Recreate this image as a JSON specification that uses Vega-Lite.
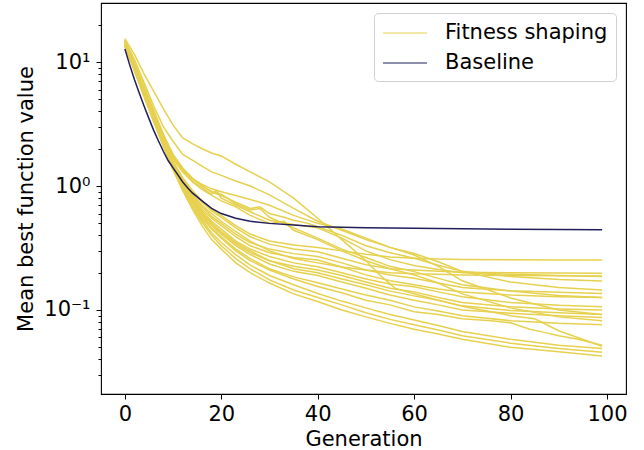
{
"$schema": "https://vega.github.io/schema/vega-lite/v6.json",
"width": 525, "height": 391,
"autosize": {"type": "none"},
"padding": {"left": 101, "top": 3, "right": 18, "bottom": 56},
"background": "white",
"config": {"view": {"stroke": "#000", "strokeWidth": 1.1}, "font": "DejaVu Sans"},
"datasets": {
"fs": [
{"r":"a","g":0,"v":14},{"r":"a","g":2,"v":8.8},{"r":"a","g":4,"v":5.4},{"r":"a","g":6,"v":3.4},{"r":"a","g":8,"v":2.1},{"r":"a","g":10,"v":1.35},{"r":"a","g":12,"v":0.92},{"r":"a","g":14,"v":0.65},{"r":"a","g":16,"v":0.48},{"r":"a","g":18,"v":0.37},{"r":"a","g":20,"v":0.31},{"r":"a","g":23,"v":0.24},{"r":"a","g":26,"v":0.2},{"r":"a","g":30,"v":0.165},{"r":"a","g":35,"v":0.135},{"r":"a","g":40,"v":0.117},{"r":"a","g":45,"v":0.1},{"r":"a","g":50,"v":0.088},{"r":"a","g":55,"v":0.078},{"r":"a","g":60,"v":0.07},{"r":"a","g":65,"v":0.064},{"r":"a","g":70,"v":0.058},{"r":"a","g":80,"v":0.05},{"r":"a","g":90,"v":0.046},{"r":"a","g":99,"v":0.0426},
{"r":"b","g":0,"v":13.5},{"r":"b","g":2,"v":8.5},{"r":"b","g":4,"v":5.3},{"r":"b","g":6,"v":3.3},{"r":"b","g":8,"v":2.1},{"r":"b","g":10,"v":1.38},{"r":"b","g":12,"v":0.95},{"r":"b","g":14,"v":0.68},{"r":"b","g":16,"v":0.51},{"r":"b","g":18,"v":0.4},{"r":"b","g":20,"v":0.33},{"r":"b","g":23,"v":0.26},{"r":"b","g":26,"v":0.215},{"r":"b","g":30,"v":0.175},{"r":"b","g":35,"v":0.145},{"r":"b","g":40,"v":0.126},{"r":"b","g":45,"v":0.11},{"r":"b","g":50,"v":0.095},{"r":"b","g":55,"v":0.084},{"r":"b","g":60,"v":0.076},{"r":"b","g":65,"v":0.069},{"r":"b","g":70,"v":0.062},{"r":"b","g":80,"v":0.054},{"r":"b","g":90,"v":0.049},{"r":"b","g":99,"v":0.0456},
{"r":"c","g":0,"v":14.5},{"r":"c","g":2,"v":9},{"r":"c","g":4,"v":5.5},{"r":"c","g":6,"v":3.4},{"r":"c","g":8,"v":2.15},{"r":"c","g":10,"v":1.4},{"r":"c","g":12,"v":0.97},{"r":"c","g":14,"v":0.7},{"r":"c","g":16,"v":0.53},{"r":"c","g":18,"v":0.42},{"r":"c","g":20,"v":0.35},{"r":"c","g":23,"v":0.28},{"r":"c","g":26,"v":0.23},{"r":"c","g":30,"v":0.19},{"r":"c","g":35,"v":0.16},{"r":"c","g":40,"v":0.136},{"r":"c","g":45,"v":0.118},{"r":"c","g":50,"v":0.104},{"r":"c","g":55,"v":0.092},{"r":"c","g":60,"v":0.083},{"r":"c","g":65,"v":0.075},{"r":"c","g":70,"v":0.067},{"r":"c","g":80,"v":0.058},{"r":"c","g":90,"v":0.052},{"r":"c","g":99,"v":0.049},
{"r":"d","g":0,"v":13.8},{"r":"d","g":2,"v":8.6},{"r":"d","g":4,"v":5.2},{"r":"d","g":6,"v":3.3},{"r":"d","g":8,"v":2.1},{"r":"d","g":10,"v":1.36},{"r":"d","g":12,"v":0.94},{"r":"d","g":14,"v":0.7},{"r":"d","g":16,"v":0.55},{"r":"d","g":18,"v":0.45},{"r":"d","g":20,"v":0.38},{"r":"d","g":23,"v":0.3},{"r":"d","g":26,"v":0.25},{"r":"d","g":30,"v":0.21},{"r":"d","g":35,"v":0.178},{"r":"d","g":40,"v":0.155},{"r":"d","g":45,"v":0.138},{"r":"d","g":50,"v":0.12},{"r":"d","g":55,"v":0.11},{"r":"d","g":60,"v":0.097},{"r":"d","g":65,"v":0.092},{"r":"d","g":70,"v":0.085},{"r":"d","g":76,"v":0.082},{"r":"d","g":80,"v":0.079},{"r":"d","g":84,"v":0.07},{"r":"d","g":87,"v":0.066},{"r":"d","g":90,"v":0.062},{"r":"d","g":94,"v":0.058},{"r":"d","g":99,"v":0.052},
{"r":"e","g":0,"v":14.2},{"r":"e","g":2,"v":8.9},{"r":"e","g":4,"v":5.4},{"r":"e","g":6,"v":3.35},{"r":"e","g":8,"v":2.15},{"r":"e","g":10,"v":1.42},{"r":"e","g":12,"v":1.0},{"r":"e","g":14,"v":0.74},{"r":"e","g":16,"v":0.57},{"r":"e","g":18,"v":0.46},{"r":"e","g":20,"v":0.39},{"r":"e","g":23,"v":0.31},{"r":"e","g":26,"v":0.26},{"r":"e","g":30,"v":0.215},{"r":"e","g":35,"v":0.185},{"r":"e","g":40,"v":0.166},{"r":"e","g":45,"v":0.148},{"r":"e","g":50,"v":0.132},{"r":"e","g":55,"v":0.12},{"r":"e","g":60,"v":0.106},{"r":"e","g":65,"v":0.098},{"r":"e","g":70,"v":0.09},{"r":"e","g":80,"v":0.082},{"r":"e","g":90,"v":0.078},{"r":"e","g":99,"v":0.076},
{"r":"f","g":0,"v":14.8},{"r":"f","g":2,"v":9.2},{"r":"f","g":4,"v":5.6},{"r":"f","g":6,"v":3.5},{"r":"f","g":8,"v":2.2},{"r":"f","g":10,"v":1.45},{"r":"f","g":12,"v":1.02},{"r":"f","g":14,"v":0.75},{"r":"f","g":16,"v":0.58},{"r":"f","g":18,"v":0.48},{"r":"f","g":20,"v":0.41},{"r":"f","g":23,"v":0.33},{"r":"f","g":26,"v":0.28},{"r":"f","g":30,"v":0.235},{"r":"f","g":35,"v":0.205},{"r":"f","g":40,"v":0.19},{"r":"f","g":45,"v":0.168},{"r":"f","g":50,"v":0.15},{"r":"f","g":55,"v":0.132},{"r":"f","g":60,"v":0.12},{"r":"f","g":65,"v":0.11},{"r":"f","g":70,"v":0.1},{"r":"f","g":80,"v":0.094},{"r":"f","g":90,"v":0.09},{"r":"f","g":99,"v":0.087},
{"r":"g","g":0,"v":13.6},{"r":"g","g":2,"v":8.6},{"r":"g","g":4,"v":5.3},{"r":"g","g":6,"v":3.35},{"r":"g","g":8,"v":2.15},{"r":"g","g":10,"v":1.43},{"r":"g","g":12,"v":1.02},{"r":"g","g":14,"v":0.76},{"r":"g","g":16,"v":0.6},{"r":"g","g":18,"v":0.5},{"r":"g","g":20,"v":0.43},{"r":"g","g":23,"v":0.35},{"r":"g","g":26,"v":0.3},{"r":"g","g":30,"v":0.25},{"r":"g","g":35,"v":0.215},{"r":"g","g":40,"v":0.2},{"r":"g","g":45,"v":0.178},{"r":"g","g":50,"v":0.16},{"r":"g","g":55,"v":0.142},{"r":"g","g":60,"v":0.13},{"r":"g","g":65,"v":0.12},{"r":"g","g":70,"v":0.108},{"r":"g","g":80,"v":0.099},{"r":"g","g":90,"v":0.095},{"r":"g","g":99,"v":0.092},
{"r":"h","g":0,"v":14.4},{"r":"h","g":2,"v":9},{"r":"h","g":4,"v":5.5},{"r":"h","g":6,"v":3.45},{"r":"h","g":8,"v":2.2},{"r":"h","g":10,"v":1.46},{"r":"h","g":12,"v":1.04},{"r":"h","g":14,"v":0.78},{"r":"h","g":16,"v":0.61},{"r":"h","g":18,"v":0.5},{"r":"h","g":20,"v":0.42},{"r":"h","g":23,"v":0.34},{"r":"h","g":26,"v":0.29},{"r":"h","g":30,"v":0.25},{"r":"h","g":35,"v":0.225},{"r":"h","g":40,"v":0.21},{"r":"h","g":45,"v":0.19},{"r":"h","g":50,"v":0.168},{"r":"h","g":55,"v":0.15},{"r":"h","g":60,"v":0.14},{"r":"h","g":65,"v":0.126},{"r":"h","g":70,"v":0.115},{"r":"h","g":80,"v":0.106},{"r":"h","g":90,"v":0.102},{"r":"h","g":99,"v":0.1},
{"r":"i","g":0,"v":13.9},{"r":"i","g":2,"v":8.8},{"r":"i","g":4,"v":5.4},{"r":"i","g":6,"v":3.4},{"r":"i","g":8,"v":2.2},{"r":"i","g":10,"v":1.48},{"r":"i","g":12,"v":1.06},{"r":"i","g":14,"v":0.8},{"r":"i","g":16,"v":0.63},{"r":"i","g":18,"v":0.52},{"r":"i","g":20,"v":0.45},{"r":"i","g":23,"v":0.36},{"r":"i","g":26,"v":0.31},{"r":"i","g":30,"v":0.27},{"r":"i","g":35,"v":0.24},{"r":"i","g":40,"v":0.223},{"r":"i","g":45,"v":0.2},{"r":"i","g":50,"v":0.178},{"r":"i","g":55,"v":0.162},{"r":"i","g":60,"v":0.154},{"r":"i","g":65,"v":0.14},{"r":"i","g":70,"v":0.128},{"r":"i","g":80,"v":0.115},{"r":"i","g":90,"v":0.109},{"r":"i","g":99,"v":0.106},
{"r":"j","g":0,"v":14.6},{"r":"j","g":2,"v":9.1},{"r":"j","g":4,"v":5.6},{"r":"j","g":6,"v":3.5},{"r":"j","g":8,"v":2.25},{"r":"j","g":10,"v":1.5},{"r":"j","g":12,"v":1.08},{"r":"j","g":14,"v":0.82},{"r":"j","g":16,"v":0.65},{"r":"j","g":18,"v":0.55},{"r":"j","g":20,"v":0.48},{"r":"j","g":23,"v":0.39},{"r":"j","g":26,"v":0.33},{"r":"j","g":30,"v":0.29},{"r":"j","g":35,"v":0.265},{"r":"j","g":40,"v":0.253},{"r":"j","g":45,"v":0.222},{"r":"j","g":50,"v":0.192},{"r":"j","g":55,"v":0.172},{"r":"j","g":60,"v":0.16},{"r":"j","g":65,"v":0.148},{"r":"j","g":70,"v":0.14},{"r":"j","g":80,"v":0.132},{"r":"j","g":90,"v":0.128},{"r":"j","g":99,"v":0.126},
{"r":"k","g":0,"v":13.4},{"r":"k","g":2,"v":8.5},{"r":"k","g":4,"v":5.3},{"r":"k","g":6,"v":3.4},{"r":"k","g":8,"v":2.2},{"r":"k","g":10,"v":1.5},{"r":"k","g":12,"v":1.1},{"r":"k","g":14,"v":0.85},{"r":"k","g":16,"v":0.68},{"r":"k","g":18,"v":0.57},{"r":"k","g":20,"v":0.5},{"r":"k","g":23,"v":0.41},{"r":"k","g":26,"v":0.35},{"r":"k","g":30,"v":0.31},{"r":"k","g":35,"v":0.285},{"r":"k","g":40,"v":0.27},{"r":"k","g":45,"v":0.24},{"r":"k","g":50,"v":0.21},{"r":"k","g":55,"v":0.192},{"r":"k","g":60,"v":0.18},{"r":"k","g":65,"v":0.165},{"r":"k","g":70,"v":0.152},{"r":"k","g":80,"v":0.143},{"r":"k","g":90,"v":0.139},{"r":"k","g":99,"v":0.136},
{"r":"l","g":0,"v":14.9},{"r":"l","g":2,"v":9.3},{"r":"l","g":4,"v":5.7},{"r":"l","g":6,"v":3.6},{"r":"l","g":8,"v":2.3},{"r":"l","g":10,"v":1.55},{"r":"l","g":12,"v":1.12},{"r":"l","g":14,"v":0.86},{"r":"l","g":16,"v":0.7},{"r":"l","g":18,"v":0.6},{"r":"l","g":20,"v":0.52},{"r":"l","g":23,"v":0.43},{"r":"l","g":26,"v":0.36},{"r":"l","g":30,"v":0.3},{"r":"l","g":35,"v":0.26},{"r":"l","g":40,"v":0.24},{"r":"l","g":45,"v":0.222},{"r":"l","g":50,"v":0.21},{"r":"l","g":55,"v":0.2},{"r":"l","g":60,"v":0.196},{"r":"l","g":65,"v":0.194},{"r":"l","g":70,"v":0.192},{"r":"l","g":80,"v":0.19},{"r":"l","g":90,"v":0.189},{"r":"l","g":99,"v":0.188},
{"r":"m","g":0,"v":13.7},{"r":"m","g":2,"v":8.7},{"r":"m","g":4,"v":5.4},{"r":"m","g":6,"v":3.45},{"r":"m","g":8,"v":2.25},{"r":"m","g":10,"v":1.55},{"r":"m","g":12,"v":1.14},{"r":"m","g":14,"v":0.9},{"r":"m","g":16,"v":0.74},{"r":"m","g":18,"v":0.63},{"r":"m","g":20,"v":0.56},{"r":"m","g":23,"v":0.46},{"r":"m","g":26,"v":0.39},{"r":"m","g":30,"v":0.34},{"r":"m","g":35,"v":0.31},{"r":"m","g":40,"v":0.295},{"r":"m","g":45,"v":0.262},{"r":"m","g":50,"v":0.232},{"r":"m","g":55,"v":0.215},{"r":"m","g":60,"v":0.21},{"r":"m","g":65,"v":0.205},{"r":"m","g":70,"v":0.202},{"r":"m","g":80,"v":0.2},{"r":"m","g":90,"v":0.199},{"r":"m","g":99,"v":0.198},
{"r":"n","g":0,"v":14.3},{"r":"n","g":2,"v":9},{"r":"n","g":4,"v":5.6},{"r":"n","g":6,"v":3.55},{"r":"n","g":8,"v":2.3},{"r":"n","g":10,"v":1.58},{"r":"n","g":12,"v":1.17},{"r":"n","g":14,"v":0.92},{"r":"n","g":16,"v":0.76},{"r":"n","g":18,"v":0.65},{"r":"n","g":20,"v":0.58},{"r":"n","g":23,"v":0.48},{"r":"n","g":26,"v":0.41},{"r":"n","g":30,"v":0.36},{"r":"n","g":35,"v":0.335},{"r":"n","g":40,"v":0.32},{"r":"n","g":45,"v":0.3},{"r":"n","g":50,"v":0.282},{"r":"n","g":55,"v":0.268},{"r":"n","g":60,"v":0.262},{"r":"n","g":65,"v":0.258},{"r":"n","g":70,"v":0.256},{"r":"n","g":80,"v":0.254},{"r":"n","g":90,"v":0.253},{"r":"n","g":99,"v":0.253},
{"r":"o","g":0,"v":15},{"r":"o","g":2,"v":9.5},{"r":"o","g":4,"v":5.9},{"r":"o","g":6,"v":3.8},{"r":"o","g":8,"v":2.5},{"r":"o","g":10,"v":1.75},{"r":"o","g":12,"v":1.38},{"r":"o","g":14,"v":1.15},{"r":"o","g":16,"v":1.0},{"r":"o","g":18,"v":0.9},{"r":"o","g":20,"v":0.84},{"r":"o","g":23,"v":0.74},{"r":"o","g":26,"v":0.66},{"r":"o","g":28,"v":0.68},{"r":"o","g":30,"v":0.6},{"r":"o","g":33,"v":0.56},{"r":"o","g":35,"v":0.53},{"r":"o","g":38,"v":0.5},{"r":"o","g":40,"v":0.47},{"r":"o","g":45,"v":0.4},{"r":"o","g":50,"v":0.33},{"r":"o","g":55,"v":0.29},{"r":"o","g":60,"v":0.262},{"r":"o","g":65,"v":0.23},{"r":"o","g":70,"v":0.205},{"r":"o","g":80,"v":0.186},{"r":"o","g":90,"v":0.176},{"r":"o","g":99,"v":0.171},
{"r":"p","g":0,"v":14},{"r":"p","g":2,"v":9.0},{"r":"p","g":4,"v":5.7},{"r":"p","g":6,"v":3.7},{"r":"p","g":8,"v":2.45},{"r":"p","g":10,"v":1.7},{"r":"p","g":12,"v":1.33},{"r":"p","g":14,"v":1.1},{"r":"p","g":16,"v":0.96},{"r":"p","g":18,"v":0.86},{"r":"p","g":19,"v":0.92},{"r":"p","g":20,"v":0.8},{"r":"p","g":23,"v":0.7},{"r":"p","g":26,"v":0.62},{"r":"p","g":30,"v":0.53},{"r":"p","g":35,"v":0.49},{"r":"p","g":40,"v":0.46},{"r":"p","g":45,"v":0.38},{"r":"p","g":50,"v":0.3},{"r":"p","g":55,"v":0.255},{"r":"p","g":60,"v":0.229},{"r":"p","g":65,"v":0.212},{"r":"p","g":70,"v":0.2},{"r":"p","g":80,"v":0.194},{"r":"p","g":90,"v":0.19},{"r":"p","g":99,"v":0.186},
{"r":"q","g":0,"v":15.2},{"r":"q","g":2,"v":9.6},{"r":"q","g":4,"v":6.0},{"r":"q","g":6,"v":3.9},{"r":"q","g":8,"v":2.6},{"r":"q","g":10,"v":1.8},{"r":"q","g":12,"v":1.4},{"r":"q","g":14,"v":1.16},{"r":"q","g":16,"v":1.0},{"r":"q","g":18,"v":0.9},{"r":"q","g":20,"v":0.86},{"r":"q","g":23,"v":0.72},{"r":"q","g":26,"v":0.64},{"r":"q","g":28,"v":0.66},{"r":"q","g":30,"v":0.56},{"r":"q","g":35,"v":0.46},{"r":"q","g":40,"v":0.38},{"r":"q","g":45,"v":0.31},{"r":"q","g":50,"v":0.265},{"r":"q","g":55,"v":0.225},{"r":"q","g":60,"v":0.204},{"r":"q","g":65,"v":0.18},{"r":"q","g":70,"v":0.16},{"r":"q","g":80,"v":0.142},{"r":"q","g":90,"v":0.131},{"r":"q","g":99,"v":0.126},
{"r":"s","g":0,"v":14.5},{"r":"s","g":2,"v":9.2},{"r":"s","g":4,"v":5.8},{"r":"s","g":6,"v":3.7},{"r":"s","g":8,"v":2.4},{"r":"s","g":10,"v":1.65},{"r":"s","g":12,"v":1.3},{"r":"s","g":14,"v":1.08},{"r":"s","g":16,"v":0.94},{"r":"s","g":18,"v":0.84},{"r":"s","g":20,"v":0.76},{"r":"s","g":23,"v":0.68},{"r":"s","g":26,"v":0.58},{"r":"s","g":30,"v":0.5},{"r":"s","g":33,"v":0.52},{"r":"s","g":35,"v":0.44},{"r":"s","g":40,"v":0.37},{"r":"s","g":45,"v":0.3},{"r":"s","g":50,"v":0.25},{"r":"s","g":55,"v":0.215},{"r":"s","g":60,"v":0.192},{"r":"s","g":65,"v":0.165},{"r":"s","g":70,"v":0.135},{"r":"s","g":80,"v":0.104},{"r":"s","g":90,"v":0.088},{"r":"s","g":99,"v":0.082},
{"r":"t","g":0,"v":15.5},{"r":"t","g":2,"v":11.5},{"r":"t","g":4,"v":8},{"r":"t","g":6,"v":5.8},{"r":"t","g":8,"v":4.2},{"r":"t","g":10,"v":3.1},{"r":"t","g":12,"v":2.45},{"r":"t","g":14,"v":2.2},{"r":"t","g":16,"v":2.0},{"r":"t","g":18,"v":1.85},{"r":"t","g":20,"v":1.75},{"r":"t","g":23,"v":1.5},{"r":"t","g":26,"v":1.3},{"r":"t","g":30,"v":1.08},{"r":"t","g":35,"v":0.8},{"r":"t","g":40,"v":0.55},{"r":"t","g":45,"v":0.37},{"r":"t","g":50,"v":0.25},{"r":"t","g":53,"v":0.19},{"r":"t","g":56,"v":0.15},{"r":"t","g":60,"v":0.135},{"r":"t","g":65,"v":0.12},{"r":"t","g":70,"v":0.107},{"r":"t","g":80,"v":0.09},{"r":"t","g":85,"v":0.085},{"r":"t","g":90,"v":0.068},{"r":"t","g":99,"v":0.051},
{"r":"u","g":0,"v":15},{"r":"u","g":2,"v":10.5},{"r":"u","g":4,"v":6.8},{"r":"u","g":6,"v":4.4},{"r":"u","g":8,"v":3.0},{"r":"u","g":10,"v":2.3},{"r":"u","g":12,"v":1.8},{"r":"u","g":14,"v":1.62},{"r":"u","g":16,"v":1.45},{"r":"u","g":18,"v":1.3},{"r":"u","g":20,"v":1.22},{"r":"u","g":23,"v":1.1},{"r":"u","g":26,"v":1.0},{"r":"u","g":30,"v":0.85},{"r":"u","g":35,"v":0.66},{"r":"u","g":40,"v":0.52},{"r":"u","g":45,"v":0.44},{"r":"u","g":50,"v":0.37},{"r":"u","g":55,"v":0.32},{"r":"u","g":60,"v":0.286},{"r":"u","g":65,"v":0.245},{"r":"u","g":70,"v":0.205},{"r":"u","g":80,"v":0.168},{"r":"u","g":90,"v":0.152},{"r":"u","g":99,"v":0.145},
{"r":"w","g":0,"v":14.8},{"r":"w","g":2,"v":9.8},{"r":"w","g":4,"v":6.4},{"r":"w","g":6,"v":4.1},{"r":"w","g":8,"v":2.6},{"r":"w","g":10,"v":1.75},{"r":"w","g":12,"v":1.35},{"r":"w","g":14,"v":1.15},{"r":"w","g":16,"v":1.03},{"r":"w","g":18,"v":0.95},{"r":"w","g":20,"v":0.9},{"r":"w","g":23,"v":0.84},{"r":"w","g":26,"v":0.78},{"r":"w","g":30,"v":0.7},{"r":"w","g":35,"v":0.58},{"r":"w","g":40,"v":0.5},{"r":"w","g":45,"v":0.45},{"r":"w","g":50,"v":0.38},{"r":"w","g":55,"v":0.32},{"r":"w","g":60,"v":0.278},{"r":"w","g":65,"v":0.225},{"r":"w","g":70,"v":0.172},{"r":"w","g":80,"v":0.125},{"r":"w","g":90,"v":0.1},{"r":"w","g":99,"v":0.092}
],
"bl": [
{"g":0,"v":12.8},{"g":1,"v":9.5},{"g":2,"v":7.2},{"g":3,"v":5.6},{"g":4,"v":4.4},{"g":5,"v":3.5},{"g":6,"v":2.8},{"g":7,"v":2.3},{"g":8,"v":1.9},{"g":9,"v":1.6},{"g":10,"v":1.4},{"g":11,"v":1.23},{"g":12,"v":1.08},{"g":13,"v":0.97},{"g":14,"v":0.88},{"g":16,"v":0.76},{"g":18,"v":0.66},{"g":20,"v":0.6},{"g":23,"v":0.55},{"g":26,"v":0.52},{"g":30,"v":0.5},{"g":35,"v":0.485},{"g":40,"v":0.47},{"g":50,"v":0.462},{"g":60,"v":0.456},{"g":70,"v":0.452},{"g":80,"v":0.449},{"g":90,"v":0.446},{"g":99,"v":0.444}
]
},
"layer": [
{
"data": {"name": "fs"},
"mark": {"type": "line", "strokeWidth": 1.5, "clip": true},
"encoding": {
"x": {"field": "g", "type": "quantitative",
 "scale": {"domain": [-4.95, 103.95], "nice": false, "zero": false},
 "axis": {"values": [0, 20, 40, 60, 80, 100], "title": "Generation", "grid": false, "domain": false,
  "tickSize": 5, "tickColor": "#000", "labelColor": "#000", "labelFontSize": 21, "labelPadding": 4,
  "titleFontSize": 21, "titleFontWeight": "normal", "titleColor": "#000", "titlePadding": 4, "labelFlush": false}},
"y": {"field": "v", "type": "quantitative",
 "scale": {"type": "log", "domain": [0.021, 30], "nice": false},
 "axis": {"values": [0.03,0.04,0.05,0.06,0.07,0.08,0.09,0.1,0.2,0.3,0.4,0.5,0.6,0.7,0.8,0.9,1,2,3,4,5,6,7,8,9,10,20],
  "labelExpr": "datum.value == 10 ? '10¹' : datum.value == 1 ? '10⁰' : datum.value == 0.1 ? '10⁻¹' : ''",
  "tickSize": {"condition": {"test": "datum.value == 10 || datum.value == 1 || datum.value == 0.1", "value": 5}, "value": 3},
  "title": "Mean best function value", "grid": false, "domain": false, "tickColor": "#000", "labelColor": "#000",
  "labelFontSize": 21, "labelPadding": 6, "titleFontSize": 21, "titleFontWeight": "normal", "titleColor": "#000",
  "titlePadding": 7, "labelFlush": false, "labelOverlap": false}},
"detail": {"field": "r"},
"color": {"datum": "Fitness shaping", "type": "nominal",
 "scale": {"domain": ["Fitness shaping", "Baseline"], "range": ["#e6d14f", "#1f1f5c"]},
 "legend": {"title": null, "orient": "none", "legendX": 273, "legendY": 10, "symbolType": "M-2,0H2",
  "symbolSize": 484, "symbolOffset": 11, "symbolStrokeWidth": 1.2, "labelFontSize": 21, "labelColor": "#000",
  "labelLimit": 400, "labelOffset": 28, "padding": 8, "rowPadding": 8, "strokeColor": "#d0d0d0", "cornerRadius": 4, "fillColor": "#ffffff"}}
}
},
{
"data": {"name": "bl"},
"mark": {"type": "line", "strokeWidth": 1.5, "clip": true},
"encoding": {
"x": {"field": "g", "type": "quantitative"},
"y": {"field": "v", "type": "quantitative"},
"color": {"datum": "Baseline", "type": "nominal"}
}
}
]
}
